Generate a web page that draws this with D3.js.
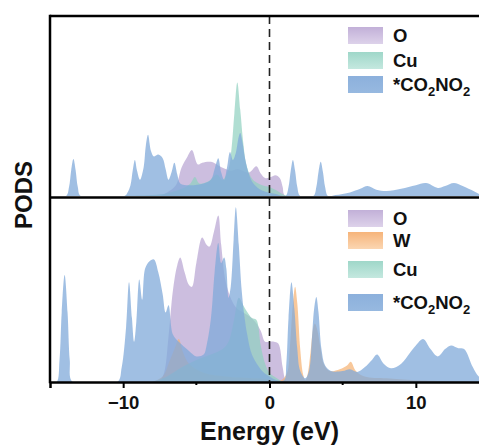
<!DOCTYPE html>
<html>
<head>
<meta charset="utf-8">
<script src="https://cdn.jsdelivr.net/npm/d3@7"></script>
<style>
body { margin: 0; background: #fff; }
svg { display: block; font-family: "Liberation Sans", Arial, sans-serif; font-weight: bold; }
</style>
</head>
<body>
<script>
// energy (eV), PDOS (arb. units)
let xTicks = [-10, 0, 10],
    xMinor = [-5, 5];

// top panel
let topO = [[-7.5,0],[-7,0.2],[-6.4,0.6],[-6.0,1.6],[-5.6,2.2],[-5.3,2.55],[-4.9,1.75],[-4.6,1.85],[-4.0,1.9],[-3.5,1.7],[-3.0,1.5],[-2.6,1.4],[-2.2,1.5],[-1.4,1.3],[-0.9,1.65],[-0.6,1.25],[-0.3,1.0],[0.1,1.05],[0.4,1.15],[0.7,1.0],[0.9,0.5],[1.1,0],[15,0]];
let topCu = [[-10,0],[-8,0.05],[-7,0.15],[-6,0.4],[-5.4,0.7],[-5.1,1.05],[-4.8,0.7],[-4.2,0.8],[-3.6,1.2],[-3.2,0.9],[-2.8,1.5],[-2.6,2.6],[-2.4,4.6],[-2.2,6.3],[-2.0,4.8],[-1.8,3.0],[-1.6,1.8],[-1.3,1.1],[-1.0,0.8],[-0.5,0.6],[0,0.5],[0.5,0.3],[1.0,0.05],[1.3,0],[15,0]];
let topAds = [[-15,0],[-13.9,0],[-13.7,0.5],[-13.55,1.45],[-13.4,2.05],[-13.25,1.45],[-13.1,0.5],[-12.9,0],
  [-9.9,0],[-9.7,0.2],[-9.5,0.6],[-9.35,1.4],[-9.2,2.0],[-9.05,1.4],[-8.85,0.9],[-8.6,1.6],[-8.45,2.8],[-8.3,3.4],[-8.1,2.5],[-7.9,2.2],[-7.6,2.3],[-7.3,2.1],[-7.1,1.5],[-6.9,0.9],[-6.7,1.3],[-6.5,1.85],[-6.3,1.2],[-6.1,0.7],
  [-5.5,0.6],[-4.5,0.7],[-4.0,0.9],[-3.75,1.5],[-3.5,2.1],[-3.3,1.3],[-3.1,0.9],[-2.9,1.6],[-2.7,2.45],[-2.5,2.0],[-2.3,2.4],[-2.1,3.3],[-2.0,3.5],[-1.85,3.0],[-1.65,2.0],[-1.4,1.2],[-1.1,0.7],[-0.5,0.3],[0.5,0.1],
  [1.1,0],[1.3,0.5],[1.45,1.4],[1.6,2.0],[1.75,1.4],[1.9,0.5],[2.1,0],
  [3.0,0],[3.2,0.5],[3.35,1.35],[3.5,1.9],[3.65,1.35],[3.8,0.5],[4.0,0],
  [4.5,0.05],[5.5,0.2],[6.2,0.4],[6.7,0.55],[7.3,0.35],[8,0.28],[9,0.4],[10,0.6],[10.7,0.72],[11.5,0.45],[12.0,0.55],[12.6,0.72],[13.2,0.55],[14,0.25],[14.5,0.05],[15,0]];

// bottom panel
let botO = [[-7.5,0],[-7.2,0.5],[-6.9,2.5],[-6.6,5.0],[-6.3,6.4],[-6.1,6.8],[-5.8,6.0],[-5.5,5.3],[-5.3,5.2],[-5.0,6.5],[-4.6,7.9],[-4.3,7.5],[-4.1,7.4],[-3.8,8.2],[-3.5,9.1],[-3.3,7.5],[-3.0,5.5],[-2.6,4.5],[-2.2,4.0],[-1.8,3.8],[-1.4,3.6],[-1.0,3.3],[-0.6,2.8],[-0.3,2.2],[0,2.2],[0.3,2.2],[0.6,2.1],[0.9,0.8],[1.1,0.1],[1.3,0],[15,0]];
let botW = [[-8,0],[-7.3,0.3],[-6.8,1.2],[-6.4,2.0],[-6.2,2.35],[-5.9,1.6],[-5.5,1.0],[-4.5,0.5],[-3,0.3],[-1,0.2],[0,0.15],[0.8,0.1],
  [1.2,0.5],[1.4,2.0],[1.6,4.3],[1.75,5.2],[1.9,4.3],[2.1,1.8],[2.3,0.4],[2.45,0.1],
  [2.6,0.4],[2.8,1.6],[3.0,3.0],[3.1,3.2],[3.25,2.9],[3.5,1.8],[3.7,1.0],[4.1,0.6],[4.8,0.7],[5.3,0.9],[5.55,1.1],[5.9,0.6],[6.5,0.3],[8,0.2],[10,0.1],[15,0]];
let botCu = [[-8,0],[-7,0.3],[-6,0.8],[-5,1.2],[-4,1.5],[-3.2,1.8],[-2.8,2.2],[-2.4,3.5],[-2.1,4.6],[-1.8,4.2],[-1.5,3.8],[-1.2,3.5],[-0.9,3.4],[-0.6,2.0],[-0.3,1.0],[0,0.5],[0.5,0.2],[1.0,0],[15,0]];
let botAds = [[-15,0],[-14.55,0],[-14.35,1.2],[-14.2,3.8],[-14.0,5.85],[-13.8,3.8],[-13.65,1.2],[-13.45,0],
  [-10.4,0],[-10.1,0.8],[-9.8,3.0],[-9.6,5.45],[-9.4,3.5],[-9.25,2.2],[-9.1,3.3],[-8.9,5.6],[-8.7,4.5],[-8.5,6.2],[-8.2,6.6],[-7.9,6.7],[-7.6,6.0],[-7.3,4.8],[-7.1,3.8],[-6.9,4.2],[-6.6,2.6],[-6.2,2.2],[-5.5,1.7],[-5.0,1.4],[-4.5,1.5],
  [-4.3,2.0],[-4.0,3.5],[-3.75,6.0],[-3.5,7.6],[-3.3,6.5],[-3.1,6.8],[-2.95,6.2],[-2.8,4.6],[-2.65,5.2],[-2.45,7.8],[-2.3,9.55],[-2.1,7.5],[-1.9,5.0],[-1.7,3.5],[-1.5,2.5],[-1.2,1.5],[-0.5,0.6],[0,0.3],[0.5,0.1],
  [1.0,0.1],[1.15,1.0],[1.3,3.5],[1.5,5.45],[1.7,4.0],[1.9,1.8],[2.1,0.6],[2.45,0.2],
  [2.7,0.6],[2.9,2.4],[3.05,4.0],[3.2,4.65],[3.35,3.8],[3.55,1.8],[3.8,0.9],
  [4.2,0.6],[5,0.6],[5.5,0.7],[6.0,0.55],[6.5,0.8],[7.0,1.2],[7.35,1.5],[7.8,1.0],[8.3,0.75],[9.0,1.0],[9.6,1.6],[10.0,2.0],[10.5,2.35],[11.0,1.8],[11.5,1.4],[12.0,1.8],[12.4,2.0],[12.9,1.85],[13.3,1.8],[13.9,0.8],[14.3,0.3],[15,0]];

let fills = { O: "#bba8d4", W: "#f5b070", Cu: "#8fd0bf", ads: "#80a9d9" };
let alphas = { O: 0.75, W: 0.7, Cu: 0.7, ads: 0.75 };

window.onload = function(){(function(){
let m = { top: 16, left: 50, bottom: 64, right: -10 },
    W = 479, H = 446,
    w = W - m.left - m.right,
    split = 197.5;

let svg = d3.select("body").append("svg")
    .attr("width", W)
    .attr("height", H);

let x = d3.scaleLinear().domain([-15, 15]).range([m.left, m.left + w]);

let panels = [
  { y0: m.top, y1: 196, series: [["O", topO], ["Cu", topCu], ["ads", topAds]],
    legend: ["O", "Cu", "ads"], ly: [27, 52, 76] },
  { y0: 199, y1: 382, series: [["O", botO], ["W", botW], ["Cu", botCu], ["ads", botAds]],
    legend: ["O", "W", "Cu", "ads"], ly: [210, 232, 261, 294] }
];

let defs = svg.append("defs");
let grads = { O: ["#c2b0d8", "#ddd2ea"], W: ["#f6b47a", "#fbd6b2"], Cu: ["#9fd7c9", "#c4e8df"], ads: ["#8cb0dc", "#97b9e0"] };
Object.keys(grads).forEach(function(k){
  let g = defs.append("linearGradient").attr("id", "lg" + k).attr("x1", 0).attr("y1", 0).attr("x2", 0).attr("y2", 1);
  g.append("stop").attr("offset", "0%").attr("stop-color", grads[k][0]);
  g.append("stop").attr("offset", "100%").attr("stop-color", grads[k][1]);
});

panels.forEach(function(p, i){
  let y = d3.scaleLinear().domain([0, 10]).range([p.y1, p.y0]);
  defs.append("clipPath").attr("id", "clip" + i)
    .append("rect").attr("x", m.left).attr("y", p.y0).attr("width", w).attr("height", p.y1 - p.y0);

  let area = d3.area()
      .x(function(d){ return x(d[0]); })
      .y0(y(0))
      .y1(function(d){ return y(d[1]); })
      .curve(d3.curveCatmullRom.alpha(0.5));

  let g = svg.append("g").attr("clip-path", "url(#clip" + i + ")");
  p.series.forEach(function(s){
    g.append("path")
      .datum(s[1])
      .attr("fill", fills[s[0]])
      .attr("fill-opacity", alphas[s[0]])
      .attr("d", area);
  });

  // legend
  let lg = svg.append("g");
  p.legend.forEach(function(k, j){
    let top = p.ly[j];
    lg.append("rect")
      .attr("x", 348).attr("y", top).attr("width", 35).attr("height", 17)
      .attr("fill", "url(#lg" + k + ")");
    let t = lg.append("text")
      .attr("x", 393).attr("y", top + 15)
      .attr("font-size", 18.5).attr("fill", "#111");
    if (k === "ads") {
      t.append("tspan").text("*CO");
      t.append("tspan").attr("font-size", 13).attr("dy", 5).text("2");
      t.append("tspan").attr("dy", -5).text("NO");
      t.append("tspan").attr("font-size", 13).attr("dy", 5).text("2");
    } else {
      t.text(k);
    }
  });
});

// Fermi level
svg.append("line")
  .attr("x1", x(0)).attr("x2", x(0))
  .attr("y1", m.top).attr("y2", 382)
  .attr("stroke", "#222").attr("stroke-width", 1.6)
  .attr("stroke-dasharray", "8,5");

// frame
let ax = svg.append("g").attr("stroke", "#000").attr("fill", "none");
ax.append("line").attr("x1", m.left).attr("x2", W).attr("y1", m.top).attr("y2", m.top).attr("stroke-width", 2.5);
ax.append("line").attr("x1", m.left).attr("x2", W).attr("y1", split).attr("y2", split).attr("stroke-width", 2.5);
ax.append("line").attr("x1", m.left).attr("x2", m.left).attr("y1", m.top - 1.2).attr("y2", 383.2).attr("stroke-width", 2.5);

// x axis
let xa = svg.append("g")
  .attr("transform", "translate(0,382)")
  .call(d3.axisBottom(x).tickValues(xTicks).tickSize(6).tickPadding(8).tickFormat(d3.format("d")));
xa.select(".domain").attr("stroke-width", 2.5);
xa.selectAll(".tick line").attr("stroke-width", 2);
xa.selectAll(".tick text").attr("font-size", 18.5).attr("font-weight", "bold")
  .attr("font-family", "Liberation Sans, Arial, sans-serif").attr("fill", "#111");
xa.selectAll(".minor").data(xMinor).enter().append("line")
  .attr("x1", function(d){ return x(d); }).attr("x2", function(d){ return x(d); })
  .attr("y1", 0).attr("y2", 3).attr("stroke", "#000").attr("stroke-width", 2);

svg.append("text")
  .attr("x", x(0)).attr("y", 440)
  .attr("text-anchor", "middle").attr("font-size", 25).attr("fill", "#111")
  .text("Energy (eV)");

svg.append("text")
  .attr("transform", "translate(32,195) rotate(-90)")
  .attr("text-anchor", "middle").attr("font-size", 24).attr("fill", "#111")
  .text("PODS");
})()}
</script>
</body>
</html>
